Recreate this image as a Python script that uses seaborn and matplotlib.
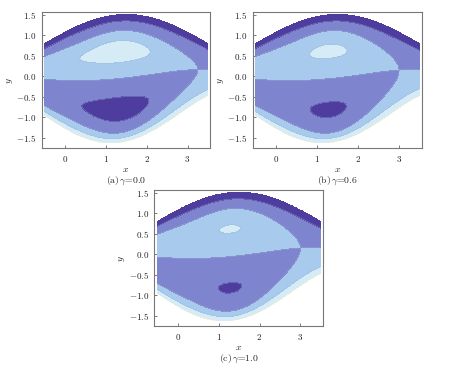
import numpy as np
import matplotlib
matplotlib.use('Agg')
import matplotlib.pyplot as plt
import seaborn as sns

# channel walls (same for all three)
wall_x = [-0.5, 0.0, 0.5, 1.0, 1.5, 2.0, 2.5, 3.0, 3.5]
wall_top = [0.80, 1.08, 1.31, 1.46, 1.52, 1.46, 1.31, 1.08, 0.80]
wall_bottom = [-0.95, -1.28, -1.50, -1.62, -1.60, -1.40, -1.10, -0.78, -0.47]

# one panel per gamma
gammas = [0.0, 0.6, 1.0]
panel_tags = ['(a)', '(b)', '(c)']
eddy_x = [1.31, 1.29, 1.28]        # centre of the two eddies
saddle_x = [3.25, 3.0, 3.0]        # right stagnation point
upper_core = [1.30, 1.11, 1.035]   # upper eddy strength / its contour level
lower_core = [1.27, 1.10, 1.042]   # lower eddy strength / its contour level

levels = [-1.0, -0.93, -0.5, 0.0, 0.5, 1.0]
band_colors = ['#fbf0c8', '#d5ebf6', '#a8caec', '#7e84cd', '#4e3c9e']
xticks = [0, 1, 2, 3]
yticks = [-1.5, -1.0, -0.5, 0.0, 0.5, 1.0, 1.5]

sns.set_theme(style='white')
plt.rcParams['font.family'] = 'serif'
plt.rcParams['font.serif'] = ['cmr10', 'DejaVu Serif']
plt.rcParams['mathtext.fontset'] = 'cm'
plt.rcParams['axes.formatter.use_mathtext'] = True
plt.rcParams['axes.unicode_minus'] = True


def stream(X, Y, xc, xs, k_up, k_low, b_up=0.75, b_low=0.85, c_left=0.27):
    top = np.polyval(np.polyfit(wall_x, wall_top, 4), X)
    bot = np.polyval(np.polyfit(wall_x, wall_bottom, 4), X)
    mid = (top + bot) / 2
    half = (top - bot) / 2
    v = (Y - mid) / half
    a = xs - xc
    u = X - xc
    ru = np.where(u >= 0, (u / a) ** 2,
                  c_left * (1 - np.exp(-u ** 2 / (c_left * a ** 2))))
    b = np.where(v >= 0, b_up, b_low)
    R = ru + (v / b) ** 2
    raw = v * (R - 1)
    psi_out = raw / (ru + 1 / b ** 2 - 1)
    ext = 2 / (3 * np.sqrt(3))
    psi_up = k_up * abs(levels[2]) * raw / (ext * b_up)
    psi_low = k_low * levels[4] * raw / (ext * b_low)
    psi_in = np.where(v >= 0, psi_up, psi_low)
    psi = np.where(R < 1, psi_in, psi_out)
    psi = np.clip(psi, levels[0], levels[-1])
    return np.ma.masked_where(np.abs(v) > 1, psi)


xg = np.linspace(-0.5, 3.5, 600)
yg = np.linspace(-1.75, 1.58, 600)
X, Y = np.meshgrid(xg, yg)

fig = plt.figure(figsize=(4.53, 3.69), dpi=100)
W, H = 453, 369
boxes = [(41.7, 11.7, 168.3, 136.3), (252.6, 11.7, 169.0, 136.3), (154.4, 189.5, 168.5, 136.5)]
palette = sns.color_palette(band_colors)

for i, g in enumerate(gammas):
    l, t, w, h = boxes[i]
    ax = fig.add_axes([l / W, 1 - (t + h) / H, w / W, h / H])
    psi = stream(X, Y, eddy_x[i], saddle_x[i], upper_core[i], lower_core[i])
    ax.contourf(X, Y, psi, levels=levels, colors=palette)
    ax.contour(X, Y, psi, levels=levels[2:5], colors='#9bb3d3', linewidths=0.25)
    ax.set_xlim(-0.57, 3.55)
    ax.set_ylim(-1.75, 1.58)
    ax.set_xticks(xticks)
    ax.set_yticks(yticks)
    ax.tick_params(direction='in', length=2.5, width=0.6, color='#666666',
                   labelsize=6.5, pad=4, bottom=True, left=True)
    for s in ax.spines.values():
        s.set_color('#777777')
        s.set_linewidth(0.8)
    cx = (l + w / 2) / W
    fig.text(cx, 1 - (t + h + 22) / H, '$x$', ha='center', va='center', fontsize=7)
    fig.text(cx, 1 - (t + h + 33) / H, panel_tags[i] + r'$\,\gamma$=' + f'{g:.1f}',
             ha='center', va='center', fontsize=7)
    fig.text((l - 32) / W, 1 - (t + 69) / H, '$y$', ha='center', va='center',
             fontsize=7, rotation=90)

fig.savefig('out.png', dpi=100)
